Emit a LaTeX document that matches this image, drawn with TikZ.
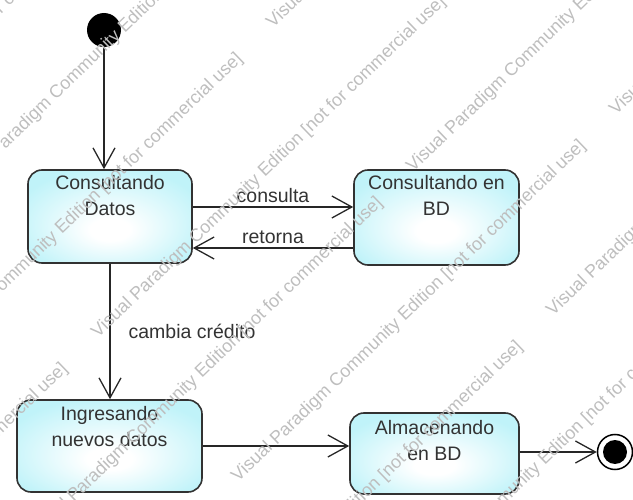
\documentclass[tikz,border=0pt]{standalone}
\usepackage{fontspec}
\setmainfont{Liberation Sans}
\usetikzlibrary{arrows.meta,positioning}
\definecolor{stcyan}{RGB}{192,243,249}
\definecolor{stline}{RGB}{50,50,50}
\definecolor{wmgray}{RGB}{190,190,190}
\pgfdeclareradialshading{stshade}{\pgfpoint{0bp}{-8bp}}{color(0bp)=(white); color(6bp)=(white); color(30bp)=(stcyan); color(50bp)=(stcyan)}

\begin{document}
\begin{tikzpicture}[x=1pt,y=-1pt,
  state/.style={draw=stline,line width=1.6pt,rounded corners=14pt,shading=stshade,inner sep=0pt},
  statetxt/.style={align=center,font=\fontsize{19.5}{26}\selectfont,text=black!80,inner sep=0pt},
  initst/.style={circle,fill=black,minimum size=34pt,inner sep=0pt},
  finst/.style={circle,draw=black,line width=1.5pt,fill=white,minimum size=35pt,inner sep=0pt,
    path picture={\fill[black] (path picture bounding box.center) circle (12pt);}},
  trans/.style={draw=black!85,line width=1.3pt,-{Straight Barb[length=20pt,width=22pt]}},
  lbl/.style={font=\fontsize{19.5}{24}\selectfont,text=black!80,inner sep=4pt},
  wmark/.style={font=\fontsize{18}{20}\selectfont,text=wmgray,rotate=44,anchor=base west,inner sep=0pt}]

\useasboundingbox (0,0) rectangle (633,500);

% pseudo states
\node[initst] (ini) at (104,30) {};
\node[finst] (fin) at (615,452) {};

% states
\node[state,minimum width=164pt,minimum height=93pt] (cd) at (110,216.5) {};
\node[statetxt,below=6pt of cd.north] (cdtxt) {Consultando\\Datos};
\node[state,minimum width=165pt,minimum height=95pt] (cb) at (436.5,217.5) {};
\node[statetxt,below=6pt of cb.north] (cbtxt) {Consultando en\\BD};
\node[state,minimum width=185pt,minimum height=92pt] (ig) at (109.5,446) {};
\node[statetxt,below=7pt of ig.north] (igtxt) {Ingresando\\nuevos datos};
\node[state,minimum width=169pt,minimum height=81pt] (al) at (434.5,453.5) {};
\node[statetxt,below=8pt of al.north] (altxt) {Almacenando\\en BD};

% transitions
\draw[trans] (ini) -- (ini |- cd.north);
\draw[trans] ([yshift=9.5pt]cd.east) -- ([yshift=9.5pt]cd.east -| cb.west)
  node[lbl,midway,above] {consulta};
\draw[trans] ([yshift=-30.5pt]cb.west) -- ([yshift=-30.5pt]cb.west -| cd.east)
  node[lbl,midway,above] {retorna};
\draw[trans] (cd) -- (cd |- ig.north)
  node[lbl,midway,right=14pt] {cambia crédito};
\draw[trans] (ig.east) -- (ig.east -| al.west);
\draw[trans] (al.east |- fin) -- (fin);

% watermark
\begin{scope}
\clip (0,0) rectangle (633,500);
\foreach \i in {-2,...,2}
  \foreach \k in {-3,...,6}
    \foreach \s in {0,1}
      \node[wmark] (wm\i\k\s) at ({-42+378*\i+140*\k+315*\s},{195-367*\i+144*\k-166*\s})
        {Visual Paradigm Community Edition [not for commercial use]};
\end{scope}
\end{tikzpicture}
\end{document}
